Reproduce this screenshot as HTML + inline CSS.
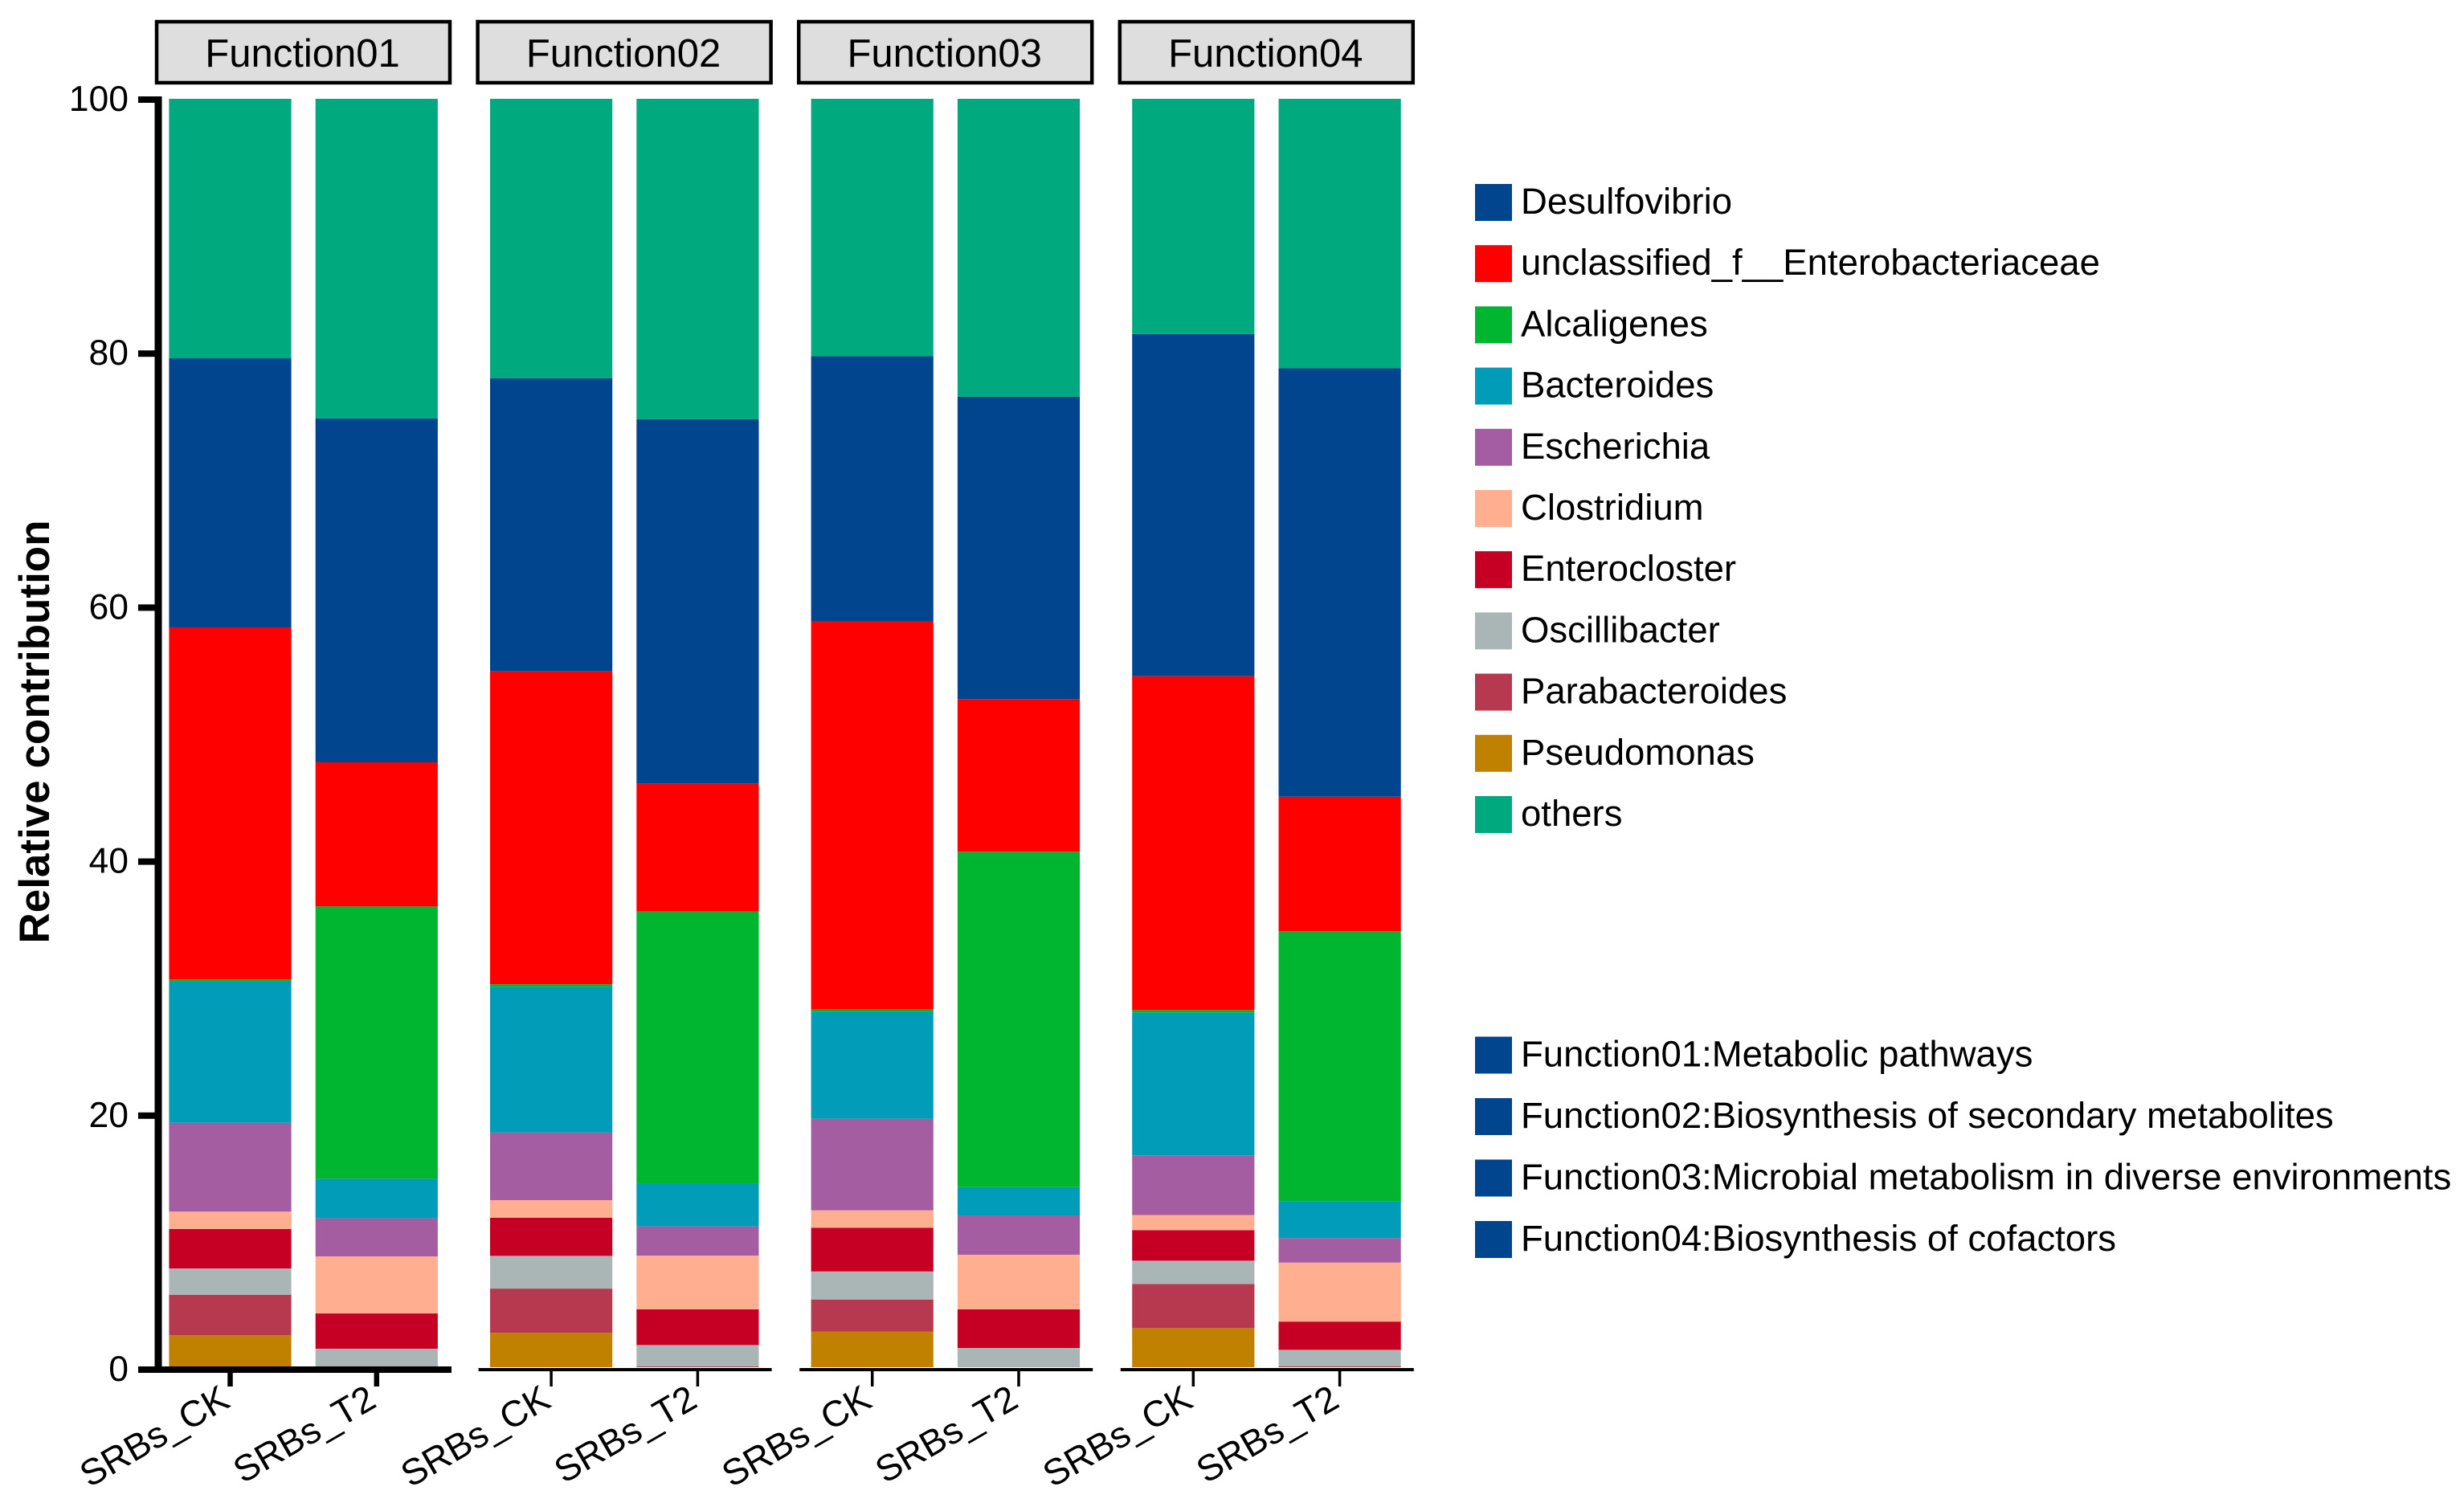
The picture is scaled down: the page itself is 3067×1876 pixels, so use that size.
<!DOCTYPE html>
<html lang="en">
<head>
<meta charset="utf-8">
<title>Relative contribution by function</title>
<style>
html,body{margin:0;padding:0;background:#fff;width:3067px;height:1876px;overflow:hidden}
svg{display:block}
text{font-family:"Liberation Sans",Arial,sans-serif;fill:#000}
</style>
</head>
<body>
<svg id="chart" xmlns="http://www.w3.org/2000/svg" width="3067" height="1876" viewBox="0 0 3067 1876"></svg>
<script>
const panels = ["Function01", "Function02", "Function03", "Function04"];
const samples = ["SRBs_CK", "SRBs_T2"];
const yTicks = [0, 20, 40, 60, 80, 100];
const legendGenera = ["Desulfovibrio", "unclassified_f__Enterobacteriaceae", "Alcaligenes", "Bacteroides", "Escherichia", "Clostridium", "Enterocloster", "Oscillibacter", "Parabacteroides", "Pseudomonas", "others"];
const legendFunctions = ["Function01:Metabolic pathways", "Function02:Biosynthesis of secondary metabolites", "Function03:Microbial metabolism in diverse environments", "Function04:Biosynthesis of cofactors"];
const genusColors = ["#00458D", "#FF0000", "#00B630", "#009CB8", "#A35DA0", "#FFAF90", "#C60025", "#AAB6B5", "#B7394F", "#C18100", "#00AA7E"];

// values ordered: F1 CK, F1 T2, F2 CK, F2 T2, F3 CK, F3 T2, F4 CK, F4 T2
const pseudomonas = [2.53, 0, 2.72, 0, 2.80, 0, 3.08, 0];
const parabacteroides = [3.17, 0, 3.48, 0.06, 2.54, 0, 3.49, 0.08];
const oscillibacter = [2.09, 1.46, 2.58, 1.69, 2.21, 1.52, 1.83, 1.29];
const enterocloster = [3.11, 2.78, 3.00, 2.81, 3.45, 3.04, 2.40, 2.23];
const clostridium = [1.37, 4.50, 1.39, 4.24, 1.37, 4.31, 1.20, 4.65];
const escherichia = [7.00, 3.00, 5.33, 2.30, 7.22, 3.10, 4.70, 1.93];
const bacteroides = [11.13, 3.12, 11.50, 3.40, 8.41, 2.23, 11.25, 2.92];
const alcaligenes = [0.17, 21.47, 0.20, 21.43, 0.20, 26.44, 0.21, 21.27];
const unclassified = [27.76, 11.36, 24.66, 10.09, 30.60, 12.03, 26.32, 10.61];
const desulfovibrio = [21.21, 27.11, 23.12, 28.73, 20.91, 23.85, 26.97, 33.78];
const others = [20.46, 25.20, 22.02, 25.25, 20.29, 23.48, 18.55, 21.24];

const stackOrder = [
  [pseudomonas, 9], [parabacteroides, 8], [oscillibacter, 7], [enterocloster, 6],
  [clostridium, 5], [escherichia, 4], [bacteroides, 3], [alcaligenes, 2],
  [unclassified, 1], [desulfovibrio, 0], [others, 10]
];

const NS = "http://www.w3.org/2000/svg";
const svg = document.getElementById("chart");
function mk(tag, attrs, parent, txt) {
  const el = document.createElementNS(NS, tag);
  for (const k in attrs) el.setAttribute(k, attrs[k]);
  if (txt !== undefined) el.textContent = txt;
  (parent || svg).appendChild(el);
  return el;
}
const yBar = v => 1702 - 15.79 * v;
const yTick = v => 1705 - 15.81 * v;
const panelX = p => 399.6 * p;
const barLeft = (p, s) => 210.4 + panelX(p) + s * 182.3;
const barWidth = 152.2;
const barCenter = (p, s) => barLeft(p, s) + barWidth / 2;

// strips
panels.forEach((name, p) => {
  const r = mk("rect", {x: 195 + panelX(p), y: 27, width: 365, height: 76, fill: "#DEDEDE", stroke: "#000", "stroke-width": 4.5});
  
  
  const t = mk("text", {x: 376.5 + panelX(p), y: 83, "font-size": 49, "text-anchor": "middle"}, svg, name);
  
  
});

// stacked bars
panels.forEach((_, p) => {
  samples.forEach((_, s) => {
    const idx = p * 2 + s;
    let acc = 0;
    stackOrder.forEach(([series, colorIndex]) => {
      const v = series[idx];
      if (v > 0) {
        const seg = mk("rect", {x: barLeft(p, s), y: yBar(acc + v), width: barWidth, height: yBar(acc) - yBar(acc + v), fill: genusColors[colorIndex]});
        
        
      }
      acc += v;
    });
  });
});

// y axis
const yLine = mk("rect", {x: 192.5, y: 120, width: 9, height: 1589, fill: "#000"});


yTicks.forEach(v => {
  const tm = mk("rect", {x: 172, y: yTick(v) - 4, width: 24, height: 8, fill: "#000"});
  
  
  const lb = mk("text", {x: 160, y: yTick(v) + 14, "font-size": 44.5, "text-anchor": "end"}, svg, String(v));
  
  
});
const yTitle = mk("text", {transform: "translate(61,911) rotate(-90)", "font-size": 53, "font-weight": "bold", "text-anchor": "middle"}, svg, "Relative contribution");



// x axes
panels.forEach((_, p) => {
  const first = p === 0;
  const base = mk("rect", first
    ? {x: 172, y: 1701, width: 390, height: 8, fill: "#000"}
    : {x: 196 + panelX(p), y: 1703, width: 365, height: 4, fill: "#000"});
  
  
  samples.forEach((name, s) => {
    const cx = barCenter(p, s);
    const w = first ? 6.5 : 3.5;
    const tk = mk("rect", {x: cx - w / 2, y: 1705, width: w, height: 21, fill: "#000"});
    
    
    const lb = mk("text", {transform: "translate(" + (cx + 2) + ",1750) rotate(-30)", "font-size": 45.5, "text-anchor": "end"}, svg, name);
    
    
  });
});

// legends
legendGenera.forEach((name, i) => {
  const top = 229 + 76.2 * i;
  const sw = mk("rect", {x: 1836, y: top, width: 46, height: 46, fill: genusColors[i]});
  
  
  const t = mk("text", {x: 1893, y: top + 37, "font-size": 45.5}, svg, name);
  
  
});
legendFunctions.forEach((name, i) => {
  const top = 1290.5 + 76.5 * i;
  const sw = mk("rect", {x: 1836, y: top, width: 46, height: 46, fill: genusColors[0]});
  
  
  const t = mk("text", {x: 1893, y: top + 37, "font-size": 45.5}, svg, name);
  
  
});
</script>
</body>
</html>
